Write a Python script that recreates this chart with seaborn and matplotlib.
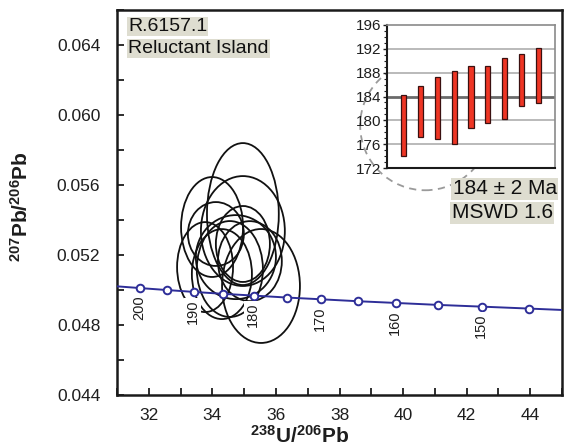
import numpy as np
import pandas as pd
import matplotlib
matplotlib.use('Agg')
import matplotlib.pyplot as plt
from matplotlib.patches import Ellipse
from matplotlib.ticker import MultipleLocator, FormatStrFormatter
import seaborn as sns

# concordia (ages in Ma, 238U/206Pb, 207Pb/206Pb)
conc_age = [200, 195, 190, 185, 180, 175, 170, 165, 160, 155, 150, 145]
conc_u238 = [31.73, 32.56, 33.43, 34.35, 35.32, 36.34, 37.42, 38.57, 39.79, 41.09, 42.48, 43.96]
conc_pb207 = [0.05011, 0.05000, 0.04989, 0.04978, 0.04968, 0.04957, 0.04947,
              0.04936, 0.04926, 0.04915, 0.04905, 0.04894]
line_u238 = [31.0] + conc_u238 + [45.0]
line_pb207 = [0.05021] + conc_pb207 + [0.04886]
label_ages = [200, 190, 180, 170, 160, 150]

# error ellipses: centre, full width, full height
ell_x = [34.96, 33.99, 34.96, 34.11, 34.96, 33.77, 35.53, 34.55, 35.18, 34.30, 34.74]
ell_y = [0.05434, 0.05360, 0.05337, 0.05320, 0.05263, 0.05131, 0.05023, 0.05120,
         0.05165, 0.05091, 0.05188]
ell_w = [2.26, 1.95, 2.64, 1.76, 1.70, 1.76, 2.45, 2.08, 2.01, 1.89, 2.52]
ell_h = [0.00811, 0.00571, 0.00628, 0.00365, 0.00434, 0.00514, 0.00651, 0.00548,
         0.00457, 0.00514, 0.00480]

# inset: 206Pb/238U ages (Ma), error bars
bar_low = [174.0, 177.2, 176.8, 176.0, 178.7, 179.5, 180.3, 182.4, 182.9]
bar_high = [184.2, 185.8, 187.2, 188.3, 189.1, 189.1, 190.5, 191.1, 192.2]
mean_age = 184

plt.rcParams['font.family'] = ['Liberation Sans', 'DejaVu Sans']
plt.rcParams['mathtext.fontset'] = 'custom'
plt.rcParams['mathtext.rm'] = 'Liberation Sans'
plt.rcParams['mathtext.bf'] = 'Liberation Sans:bold'

txt = '#1e1e1e'
blue = '#2e2e98'

fig = plt.figure(figsize=(5.81, 4.46), dpi=100)
ax = fig.add_axes([0.2014, 0.1143, 0.7659, 0.8633])

conc = pd.DataFrame({'u': line_u238, 'pb': line_pb207})
sns.lineplot(data=conc, x='u', y='pb', ax=ax, color=blue, lw=1.4, sort=False, zorder=3)
pts = pd.DataFrame({'u': conc_u238, 'pb': conc_pb207})
sns.scatterplot(data=pts, x='u', y='pb', ax=ax, s=30, facecolor='white',
                edgecolor=blue, linewidth=1.4, zorder=4)

for x, y, w, h in zip(ell_x, ell_y, ell_w, ell_h):
    ax.add_patch(Ellipse((x, y), w, h, fill=False, ec='#111111', lw=1.3, zorder=2))

for age, x, y in zip(conc_age, conc_u238, conc_pb207):
    if age in label_ages:
        ax.annotate(str(age), (x, y), xytext=(-1, -14), textcoords='offset points',
                    rotation=90, ha='center', va='center', fontsize=10.5, color=txt,
                    bbox=dict(fc='white', ec='none', pad=1.0), zorder=5)

# dashed magnifier circle behind the inset
ax.add_patch(Ellipse((40.7, 0.0594), 4.1, 0.0074, fill=False, ec='#9a9a9a',
                     lw=1.3, ls=(0, (4, 3)), zorder=1))

ax.set_xlim(31, 45)
ax.set_ylim(0.044, 0.066)
ax.xaxis.set_major_locator(MultipleLocator(2))
ax.xaxis.set_minor_locator(MultipleLocator(1))
ax.yaxis.set_major_locator(MultipleLocator(0.004))
ax.yaxis.set_minor_locator(MultipleLocator(0.002))
ax.yaxis.set_major_formatter(FormatStrFormatter('%.3f'))
ax.tick_params(which='both', direction='in', length=5, width=1.3, colors=txt,
               labelsize=12.5, top=False, right=False)
ax.tick_params(axis='y', pad=12)
ax.tick_params(axis='x', pad=9)
ax.set_xlabel('')
ax.set_ylabel('')
for s in ax.spines.values():
    s.set_linewidth(1.8)
    s.set_color('#1a1a1a')

fig.text(300 / 581, 1 - 436 / 446, r'$\mathbf{^{238}U/^{206}Pb}$', fontsize=15,
         ha='center', va='center', color=txt)
fig.text(21 / 581, 1 - 207 / 446, r'$\mathbf{^{207}Pb/^{206}Pb}$', fontsize=15,
         ha='center', va='center', rotation=90, color=txt)

bg = '#deddd0'
fig.text(128 / 581, 1 - 18 / 446, 'R.6157.1', fontsize=14, va='top', ha='left',
         color='#111111', bbox=dict(fc=bg, ec='none', pad=0.8))
fig.text(128 / 581, 1 - 40 / 446, 'Reluctant Island', fontsize=14, va='top', ha='left',
         color='#111111', bbox=dict(fc=bg, ec='none', pad=0.8))
fig.text(557 / 581, 1 - 189 / 446, '184 ± 2 Ma', fontsize=15, va='center', ha='right',
         color='#111111', bbox=dict(fc=bg, ec='none', pad=1.0))
fig.text(553 / 581, 1 - 213 / 446, 'MSWD 1.6', fontsize=15, va='center', ha='right',
         color='#111111', bbox=dict(fc=bg, ec='none', pad=1.0))

# inset weighted-mean plot
axi = fig.add_axes([387 / 581, 1 - 168 / 446, 168 / 581, 143 / 446])
axi.set_facecolor('white')
pos = np.arange(1, len(bar_low) + 1)
heights = np.array(bar_high) - np.array(bar_low)
axi.bar(pos, heights, bottom=bar_low, width=0.3, color='#ee3524', edgecolor='#3a1010',
        linewidth=0.9, zorder=3)
for g in [176, 180, 188, 192]:
    axi.axhline(g, color='#b4b4b4', lw=1.3, zorder=1)
axi.axhline(mean_age, color='#6a6a6a', lw=2.0, zorder=2)
axi.set_xlim(0, 10)
axi.set_ylim(172, 196)
axi.set_xticks([])
axi.yaxis.set_major_locator(MultipleLocator(4))
axi.yaxis.set_minor_locator(MultipleLocator(1))
axi.tick_params(axis='y', which='major', direction='out', length=3, width=1, labelsize=11,
                colors=txt, pad=1)
axi.tick_params(axis='y', which='minor', direction='out', length=2, width=0.8, colors=txt)
axi.spines['left'].set_linewidth(1.5)
axi.spines['bottom'].set_linewidth(1.5)
axi.spines['left'].set_color('#1a1a1a')
axi.spines['bottom'].set_color('#1a1a1a')
for s in ['top', 'right']:
    axi.spines[s].set_linewidth(1.2)
    axi.spines[s].set_color('#8a8a8a')

fig.savefig('out.png', dpi=100)
